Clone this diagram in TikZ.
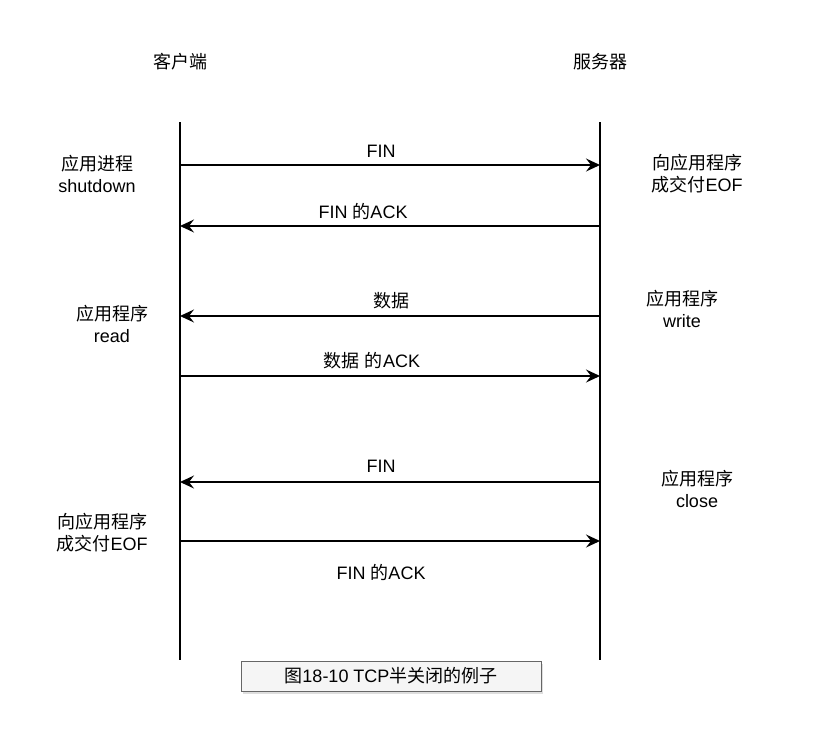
\documentclass[tikz,border=0pt]{standalone}
\usepackage{fontspec}
\setmainfont{Liberation Sans}
\newfontfamily\cjk{Noto Sans CJK SC}
\usetikzlibrary{arrows.meta,shadows}
\begin{document}
\begin{tikzpicture}[x=1pt,y=-1pt,
  lbl/.style={inner sep=0pt,font=\fontsize{18}{22}\selectfont,align=center},
  lifeline/.style={line width=1.3pt},
  msg/.style={line width=1.3pt,-{Stealth[length=14pt,width=13pt,inset=5pt]}},
  capbox/.style={draw=black!60,fill=black!4,line width=1pt,minimum width=300pt,minimum height=30pt,inner sep=0pt,
    font=\fontsize{18}{22}\selectfont,drop shadow={shadow xshift=2pt,shadow yshift=-3pt,fill=black!25}}]
\useasboundingbox (0,0) rectangle (813,753);
\fill[white] (0,0) rectangle (813,753);

% headers
\node[lbl] (hc) at (180,62) {\cjk 客户端};
\node[lbl] (hs) at (600,62) {\cjk 服务器};

% lifelines
\coordinate (ct) at (180,122); \coordinate (cb) at (180,660);
\coordinate (st) at (600,122); \coordinate (sb) at (600,660);
\draw[lifeline] (ct) -- (cb);
\draw[lifeline] (st) -- (sb);

% message endpoints
\foreach \i/\y in {1/165,2/226,3/316,4/376,5/482,6/541}{
  \coordinate (c\i) at (180,\y);
  \coordinate (s\i) at (600,\y);
}
\draw[msg] (c1) -- (s1);
\draw[msg] (s2) -- (c2);
\draw[msg] (s3) -- (c3);
\draw[msg] (c4) -- (s4);
\draw[msg] (s5) -- (c5);
\draw[msg] (c6) -- (s6);

% message labels
\node[lbl] (m1) at (381,151) {FIN};
\node[lbl] (m2) at (363,211) {FIN {\cjk 的}ACK};
\node[lbl] (m3) at (391,301) {\cjk 数据};
\node[lbl] (m4) at (372,361) {{\cjk 数据} {\cjk 的}ACK};
\node[lbl] (m5) at (381,466) {FIN};
\node[lbl] (m6) at (381,572) {FIN {\cjk 的}ACK};

% side notes
\node[lbl] (n1) at (97,174) {{\cjk 应用进程}\\shutdown};
\node[lbl] (n2) at (112,324) {{\cjk 应用程序}\\read};
\node[lbl] (n3) at (102,533) {{\cjk 向应用程序}\\{\cjk 成交付}EOF};
\node[lbl] (n4) at (697,174) {{\cjk 向应用程序}\\{\cjk 成交付}EOF};
\node[lbl] (n5) at (682,309) {{\cjk 应用程序}\\write};
\node[lbl] (n6) at (697,489) {{\cjk 应用程序}\\close};

% caption
\node[capbox] (cap) at (391,676) {{\cjk 图}18-10 TCP{\cjk 半关闭的例子}};
\end{tikzpicture}
\end{document}
